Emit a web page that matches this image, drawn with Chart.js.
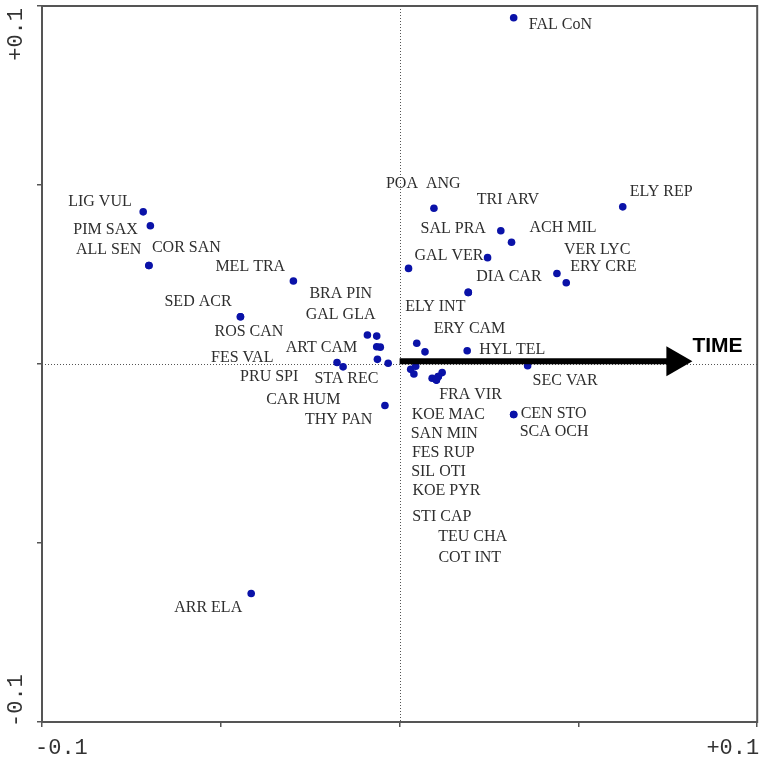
<!DOCTYPE html>
<html>
<head>
<meta charset="utf-8">
<script src="https://cdn.jsdelivr.net/npm/chart.js@4.4.1/dist/chart.umd.min.js"></script>
<style>
  html, body { margin: 0; padding: 0; background: #fff; }
</style>
</head>
<body>
<canvas id="ordination" width="761" height="757"></canvas>
<script>
// species scores on the two ordination axes
const species = [
  "FAL CoN", "LIG VUL", "PIM SAX", "ALL SEN", "COR SAN", "MEL TRA", "SED ACR", "ROS CAN",
  "BRA PIN", "GAL GLA", "ART CAM", "", "STA REC", "FES VAL", "PRU SPI", "CAR HUM",
  "THY PAN", "ARR ELA", "POA  ANG", "ELY REP", "TRI ARV", "SAL PRA", "ACH MIL", "GAL VER",
  "VER LYC", "ERY CRE", "DIA CAR", "ELY INT", "ERY CAM", "", "HYL TEL", "SEC VAR",
  "CEN STO", "SCA OCH", "FRA VIR", "KOE MAC", "SAN MIN", "FES RUP", "SIL OTI", "KOE PYR",
  "STI CAP", "TEU CHA", "COT INT"
];
const axis1 = [
  0.0319, -0.0717, -0.0697, -0.0701, -0.0701, -0.0297, -0.0445, -0.0445,
  -0.0090, -0.0064, -0.0064, -0.0054, -0.0062, -0.0175, -0.0158, -0.0032,
  -0.0041, -0.0415, 0.0096, 0.0624, 0.0283, 0.0246, 0.0313, 0.0025,
  0.0440, 0.0466, 0.0192, 0.0192, 0.0048, 0.0071, 0.0189, 0.0358,
  0.0319, 0.0319, 0.0119, 0.0031, 0.0045, 0.0040, 0.0091, 0.0103,
  0.0108, 0.0108, 0.0103
];
const axis2 = [
  0.0967, 0.0425, 0.0386, 0.0275, 0.0275, 0.0232, 0.0132, 0.0132,
  0.0081, 0.0078, 0.0048, 0.0047, 0.0013, 0.0004, -0.0008, 0.0002,
  -0.0116, -0.0641, 0.0435, 0.0439, 0.0372, 0.0297, 0.0340, 0.0267,
  0.0253, 0.0227, 0.0200, 0.0200, 0.0058, 0.0034, 0.0037, -0.0005,
  -0.0141, -0.0141, -0.0024, -0.0015, -0.0006, -0.0028, -0.0040, -0.0045,
  -0.0035, -0.0035, -0.0045
];
// environmental vector
const timeVector = [0.0816, 0.0008];
const axisLabels = ["-0.1", "+0.1"];

// where each name sits, in pixels from its point (left edge, vertical middle)
const labelOffsets = [
  [15, 7], [-75, -10], [-77, 4], [-73, -16], [3, -18], [-78, -14], [-76, -15], [-26, 15],
  [-58, -41], [-71, -21], [-91, 1], null, [-63, 19], [-126, -5], [-103, 10], [-122, 37],
  [-80, 14], [-77, 14], [-48, -24], [7, -15], [-24, -31], [-67, -29], [18, -14], [6, -13],
  [7, -24], [4, -16], [8, -16], [-63, 14], [17, -14], null, [12, -1], [5, 15],
  [7, -1], [6, 17], [-3, 22], [1, 45], [-5, 68], [-2, 79], [-21, 93], [-24, 111],
  [-26, 140], [0, 160], [2, 178]
];

const ink = '#555';

const ordinationPlot = {
  id: 'ordinationPlot',
  beforeDatasetsDraw(chart) {
    const { ctx, chartArea: a, scales: { x, y } } = chart;
    ctx.save();
    ctx.strokeStyle = ink;
    ctx.lineWidth = 1;
    ctx.setLineDash([1, 2]);
    const x0 = Math.round(x.getPixelForValue(0)) + 0.5;
    const y0 = Math.round(y.getPixelForValue(0)) + 0.5;
    ctx.beginPath();
    ctx.moveTo(x0, a.top); ctx.lineTo(x0, a.bottom);
    ctx.moveTo(a.left, y0); ctx.lineTo(a.right, y0);
    ctx.stroke();
    ctx.restore();
  },
  afterDatasetsDraw(chart) {
    const { ctx, scales: { x, y } } = chart;
    ctx.save();
    // TIME arrow
    const sx = x.getPixelForValue(0);
    const ex = x.getPixelForValue(timeVector[0]);
    const ey = y.getPixelForValue(timeVector[1]);
    ctx.strokeStyle = '#000';
    ctx.fillStyle = '#000';
    ctx.lineWidth = 6;
    ctx.beginPath();
    ctx.moveTo(sx, ey); ctx.lineTo(ex - 24, ey);
    ctx.stroke();
    ctx.beginPath();
    ctx.moveTo(ex + 1, ey);
    ctx.lineTo(ex - 25, ey - 15);
    ctx.lineTo(ex - 25, ey + 15);
    ctx.closePath();
    ctx.fill();
    ctx.font = 'bold 21px "Liberation Sans", Arial, sans-serif';
    ctx.textAlign = 'left';
    ctx.textBaseline = 'middle';
    ctx.fillText('TIME', ex + 1, ey - 15);

    // species names
    ctx.fillStyle = '#2e2e2e';
    ctx.font = '16px "Liberation Serif", "Times New Roman", serif';
    species.forEach((name, i) => {
      const off = labelOffsets[i];
      if (!name || !off) return;
      ctx.fillText(name, x.getPixelForValue(axis1[i]) + off[0], y.getPixelForValue(axis2[i]) + off[1]);
    });
    ctx.restore();
  },
  afterDraw(chart) {
    const { ctx, chartArea: a } = chart;
    ctx.save();
    ctx.strokeStyle = ink;
    ctx.lineWidth = 2;
    ctx.strokeRect(a.left, a.top, a.right - a.left, a.bottom - a.top);

    ctx.fillStyle = '#333';
    ctx.font = '22px "Liberation Mono", "Courier New", monospace';
    ctx.textBaseline = 'middle';
    ctx.textAlign = 'left';
    ctx.fillText(axisLabels[0], a.left - 7, 748);
    ctx.textAlign = 'right';
    ctx.fillText(axisLabels[1], a.right + 2, 748);

    ctx.translate(16, a.top + 2);
    ctx.rotate(-Math.PI / 2);
    ctx.textAlign = 'right';
    ctx.fillText(axisLabels[1], 0, 0);
    ctx.setTransform(1, 0, 0, 1, 0, 0);
    ctx.translate(16, a.bottom + 5);
    ctx.rotate(-Math.PI / 2);
    ctx.textAlign = 'left';
    ctx.fillText(axisLabels[0], 0, 0);
    ctx.restore();
  }
};

const axisOptions = (fitSide) => ({
  type: 'linear',
  min: -0.1,
  max: 0.1,
  ticks: { stepSize: 0.05, display: false },
  grid: { drawOnChartArea: false, drawTicks: true, tickLength: 5, color: ink, lineWidth: 1.5 },
  border: { display: false },
  afterFit(scale) { scale[fitSide] = fitSide === 'width' ? 42 : 35; }
});

new Chart(document.getElementById('ordination'), {
  type: 'scatter',
  plugins: [ordinationPlot],
  data: {
    datasets: [{
      label: 'species',
      data: species.map((s, i) => ({ x: axis1[i], y: axis2[i] })),
      pointRadius: 3.8,
      pointHoverRadius: 3.8,
      backgroundColor: '#0a12a8',
      borderWidth: 0
    }]
  },
  options: {
    responsive: false,
    animation: false,
    layout: { padding: { top: 6, right: 2, left: 0, bottom: 0 } },
    plugins: { legend: { display: false }, tooltip: { enabled: false } },
    scales: {
      x: axisOptions('height'),
      y: axisOptions('width')
    }
  }
});
</script>
</body>
</html>
